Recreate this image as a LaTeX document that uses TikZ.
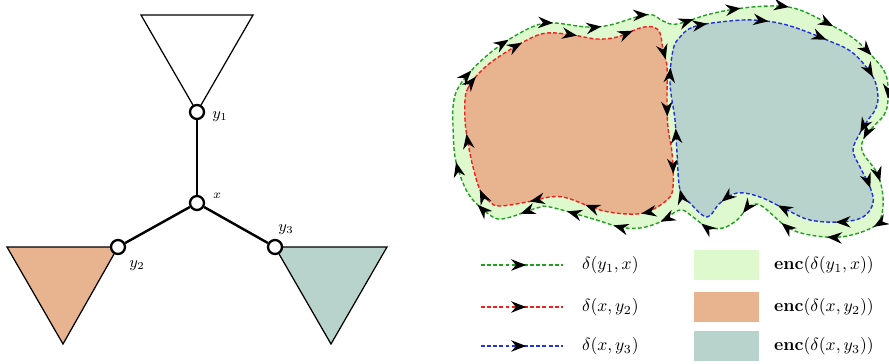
\documentclass[tikz,border=0pt]{standalone}
\usepackage{amsmath,amssymb}
\usepackage{tikz}
\usetikzlibrary{arrows.meta,decorations.markings}
\definecolor{encg}{HTML}{DFF9CE}
\definecolor{encr}{HTML}{E8B490}
\definecolor{encb}{HTML}{B8D2CC}
\definecolor{cutg}{HTML}{1FA01F}
\definecolor{cutr}{HTML}{F0201C}
\definecolor{cutb}{HTML}{2233DD}
\tikzset{
  >={Stealth[length=3mm,width=2.3mm,color=black]},
  vtx/.style={circle,draw,line width=1.3pt,fill=white,minimum size=0.28cm,inner sep=0pt},
  subtree/.style={draw,line width=0.7pt,line join=miter},
  link/.style={line width=1.4pt},
  cut/.style={line width=0.8pt,dash pattern=on 2.2pt off 1.3pt},
  arrows along/.style={postaction={decorate,decoration={markings,
    mark=between positions 0.02 and 0.97 step #1 with {\arrow{>}}}}},
  mid arrow/.style={postaction={decorate,decoration={markings,
    mark=at position 0.55 with {\arrow{>}}}}},
  lab/.style={inner sep=1pt},
  legbox/.style={minimum width=1.3cm,minimum height=0.6cm,inner sep=0pt},
}
\begin{document}
\begin{tikzpicture}[x=0.02cm,y=-0.02cm]
\useasboundingbox (0,0) rectangle (889,363);
% tree
\coordinate (cy1) at (197,112);
\coordinate (cx) at (197,203);
\coordinate (cy2) at (118,247);
\coordinate (cy3) at (275,247);
\draw[subtree] (cy1) -- (141,15) -- (253,15) -- cycle;
\draw[subtree,fill=encr] (cy2) -- (7,247) -- (63,344) -- cycle;
\draw[subtree,fill=encb] (cy3) -- (387,247) -- (331,344) -- cycle;
\node[vtx] (y1) at (cy1) {};
\node[vtx] (x) at (cx) {};
\node[vtx] (y2) at (cy2) {};
\node[vtx] (y3) at (cy3) {};
\foreach \v in {y1,y2,y3} \draw[link] (x) -- (\v);
\node[lab,font=\small] (ly1) at (220,117) {$y_1$};
\node[lab,font=\scriptsize] (lx) at (217,196) {$x$};
\node[lab,font=\small] (ly2) at (137,266) {$y_2$};
\node[lab,font=\small] (ly3) at (286,230) {$y_3$};
% cuts
\draw[cut,cutg,fill=encg,arrows along=0.04] plot[smooth cycle,tension=0.6] coordinates {
  (453,107) (457,90) (470,72) (490,53) (513,37) (537,25) (555,23) (587,27) (610,25)
  (640,16) (653,15) (663,21) (677,24) (710,14) (743,8) (777,6) (800,10) (827,23)
  (853,38) (873,57) (886,75) (888,100) (884,115) (873,127) (863,140) (863,153)
  (877,173) (883,197) (880,220) (867,230) (840,237) (810,235) (787,227) (760,205)
  (747,209) (737,220) (723,228) (707,227) (693,217) (680,210) (660,222) (640,228)
  (620,227) (590,218) (550,207) (537,208) (507,218) (493,217) (473,200) (463,183)
  (455,157) (453,125)};
\draw[cut,cutr,fill=encr,arrows along=0.083] plot[smooth cycle,tension=0.6] coordinates {
  (465,100) (468,88) (480,72) (497,58) (527,40) (547,33) (573,35) (597,39) (617,37)
  (640,28) (653,27) (660,33) (663,50) (667,67) (667,100) (668,128) (672,153)
  (673,187) (667,200) (647,212) (627,214) (600,210) (567,198) (550,197) (527,202)
  (500,206) (490,202) (480,190) (472,163) (467,137) (465,120)};
\draw[cut,cutb,fill=encb,arrows along=0.083] plot[smooth cycle,tension=0.6] coordinates {
  (680,37) (693,27) (720,22) (753,20) (787,25) (827,40) (853,53) (873,77) (878,97)
  (875,110) (868,120) (860,133) (853,150) (860,167) (870,187) (873,203) (863,217)
  (840,222) (810,220) (787,210) (760,197) (737,193) (720,203) (707,217) (690,203)
  (680,190) (677,153) (675,120) (670,83) (673,50)};
% legend
\foreach \cc/\ff/\yy/\pr in {cutg/encg/265/{y_1,x},cutr/encr/307/{x,y_2},cutb/encb/346/{x,y_3}} {
  \coordinate (a\cc) at (481,\yy);
  \coordinate (b\cc) at (563,\yy);
  \draw[cut,\cc,mid arrow] (a\cc) -- (b\cc);
  \node[lab,anchor=west] (d\cc) at (580,\yy) {$\delta(\pr)$};
  \node[legbox,fill=\ff] (k\cc) at (726,\yy) {};
  \node[lab,anchor=west] (e\cc) at (772,\yy) {$\mathbf{enc}(\delta(\pr))$};
}
\end{tikzpicture}
\end{document}
